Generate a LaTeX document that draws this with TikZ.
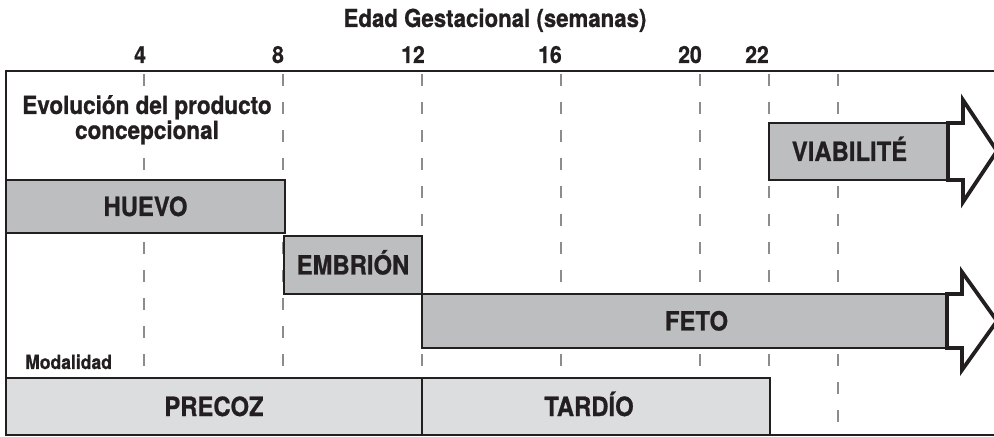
\documentclass[tikz,border=0pt]{standalone}
\usepackage{fontspec}
\setmainfont{TeX Gyre Heros}[FakeStretch=0.9, BoldFeatures={FakeBold=0.8}]
\definecolor{ink}{HTML}{231F20}
\definecolor{gdark}{HTML}{BCBEC0}
\definecolor{glight}{HTML}{DCDDDF}
\definecolor{gdash}{HTML}{8C8C8C}
\tikzset{
  bx/.style={draw=ink, line width=2bp, inner sep=0pt, outer sep=0pt, anchor=north west},
  lbl/.style={text=ink, font=\bfseries\fontsize{26.5bp}{30bp}\selectfont, inner sep=0pt, anchor=base},
  num/.style={text=ink, font=\bfseries\fontsize{23.5bp}{27bp}\selectfont, inner sep=0pt, anchor=base},
  weekline/.style={draw=gdash, line width=1.6bp, dash pattern=on 12bp off 16bp},
  headshape/.style={draw=ink, fill=white, line width=3.8bp, line join=miter, miter limit=10},
  framepath/.style={draw=ink, line width=2bp}
}
\begin{document}
\begin{tikzpicture}[x=1bp,y=-1bp]
\useasboundingbox (0,0) rectangle (994,437);
% title and week numbers
\node[num, font=\bfseries\fontsize{24.7bp}{28bp}\selectfont] (title) at (495,27) {Edad Gestacional (semanas)};
\node[num] (n4) at (140,63) {4};
\node[num] (n8) at (278,63) {8};
\node[num] (n12) at (413,63) {12};
\node[num] (n16) at (550,63) {16};
\node[num] (n20) at (690,63) {20};
\node[num] (n22) at (757,63) {22};
% dashed week lines
\foreach \xx in {144,283,422,561,700,769,838}{
  \draw[weekline] (\xx,74) -- (\xx,435);
}
% frame
\coordinate (tl) at (6,71);
\coordinate (tr) at (994,71);
\coordinate (bl) at (6,435);
\coordinate (br) at (994,435);
\draw[framepath] (tl) -- (tr);
\draw[framepath, line cap=rect] (tl) -- (bl) -- (br);
% section labels
\node[text=ink, fill=white, font=\bfseries\fontsize{25bp}{25bp}\selectfont, align=center, inner sep=1bp, anchor=north] (evo) at (147,94) {Evolución del producto\\concepcional};
\node[text=ink, font=\bfseries\fontsize{19.5bp}{22bp}\selectfont, inner sep=0pt, anchor=base west] (moda) at (25,369) {Modalidad};
% stage boxes
\node[bx, fill=gdark, minimum width=279bp, minimum height=53bp] (huevo) at (6,180) {};
\node[lbl] at ([yshift=-9.5bp]huevo.center) {HUEVO};
\node[bx, fill=gdark, minimum width=138bp, minimum height=58bp] (embrion) at (284,236) {};
\node[lbl] at ([yshift=-9.5bp]embrion.center) {EMBRIÓN};
\node[bx, fill=gdark, minimum width=525bp, minimum height=54bp] (feto) at (422,294) {};
\node[lbl] at ([xshift=12bp,yshift=-9.5bp]feto.center) {FETO};
\node[bx, fill=gdark, minimum width=179bp, minimum height=57bp] (viab) at (769,123) {};
\node[lbl] at ([xshift=-9bp,yshift=-9.5bp]viab.center) {VIABILITÉ};
% arrow heads
\draw[headshape] (feto.north east) -- ++(15,0) -- ++(0,-22) -- ++(35,49) -- ++(-35,49) -- ++(0,-22) -- (feto.south east) -- cycle;
\draw[headshape] (viab.north east) -- ++(15,0) -- ++(0,-23) -- ++(34,51) -- ++(-34,51) -- ++(0,-22) -- (viab.south east) -- cycle;
% modality boxes
\node[bx, fill=glight, minimum width=416bp, minimum height=57bp] (precoz) at (6,378) {};
\node[lbl] at ([yshift=-9.5bp]precoz.center) {PRECOZ};
\node[bx, fill=glight, minimum width=348bp, minimum height=57bp] (tardio) at (422,378) {};
\node[lbl] at ([xshift=-7bp,yshift=-9.5bp]tardio.center) {TARDÍO};
\end{tikzpicture}
\end{document}
